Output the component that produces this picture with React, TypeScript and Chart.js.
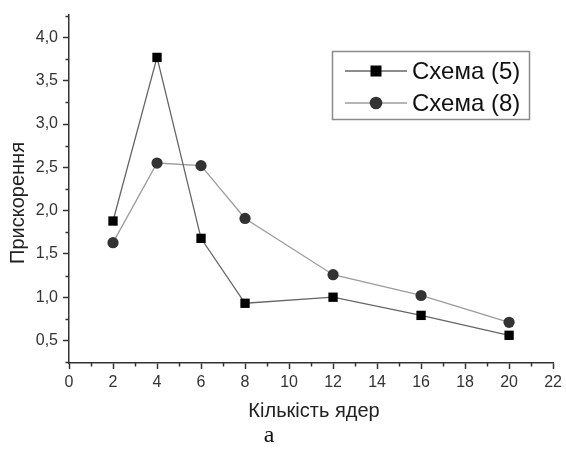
import { useEffect, useRef } from 'react';
import { Chart, registerables } from 'chart.js';

Chart.register(...registerables);

const coreCounts = [2, 4, 6, 8, 12, 16, 20];
const scheme5 = [1.88, 3.77, 1.68, 0.93, 1.0, 0.79, 0.56];
const scheme8 = [1.63, 2.55, 2.52, 1.91, 1.26, 1.02, 0.71];
const seriesLabels = ['Схема (5)', 'Схема (8)'];
const xMajorTicks = [0, 2, 4, 6, 8, 10, 12, 14, 16, 18, 20, 22];
const xMinorTicks = [1, 3, 5, 7, 9, 11, 13, 15, 17, 19, 21];
const yMajorTicks = [0.5, 1.0, 1.5, 2.0, 2.5, 3.0, 3.5, 4.0];
const yMinorTicks = [0.25, 0.75, 1.25, 1.75, 2.25, 2.75, 3.25, 3.75, 4.25];
const xTitle = 'Кількість ядер';
const yTitle = 'Прискорення';
const caption = 'а';

const FONT = '"Liberation Sans", Arial, sans-serif';
const AXIS = '#333333';

const extrasPlugin = {
  id: 'extras',
  afterDraw(chart: any) {
    const ctx = chart.ctx as CanvasRenderingContext2D;
    const xs = chart.scales.x;
    const ys = chart.scales.y;
    const area = chart.chartArea;
    ctx.save();
    // minor ticks
    ctx.strokeStyle = AXIS;
    ctx.lineWidth = 1.5;
    ctx.beginPath();
    xMinorTicks.forEach((v) => {
      const px = Math.round(xs.getPixelForValue(v)) + 0.5;
      ctx.moveTo(px, area.bottom);
      ctx.lineTo(px, area.bottom + 3.5);
    });
    yMinorTicks.forEach((v) => {
      const py = Math.round(ys.getPixelForValue(v)) + 0.5;
      ctx.moveTo(area.left, py);
      ctx.lineTo(area.left - 3.5, py);
    });
    ctx.stroke();

    // legend box
    const bx = 332, by = 51, bw = 197, bh = 68;
    ctx.strokeStyle = '#8a8a8a';
    ctx.lineWidth = 1.5;
    ctx.strokeRect(bx + 0.5, by + 0.5, bw, bh);
    const rows = [71, 103];
    chart.data.datasets.forEach((ds: any, i: number) => {
      const y = rows[i];
      ctx.strokeStyle = ds.borderColor;
      ctx.lineWidth = ds.borderWidth;
      ctx.beginPath();
      ctx.moveTo(345, y);
      ctx.lineTo(407, y);
      ctx.stroke();
      ctx.fillStyle = ds.pointBackgroundColor;
      if (ds.pointStyle === 'rect') {
        ctx.fillRect(376 - 5.5, y - 5.5, 11, 11);
      } else {
        ctx.beginPath();
        ctx.arc(376, y, 6.3, 0, Math.PI * 2);
        ctx.fill();
      }
      ctx.fillStyle = '#111';
      ctx.font = `24px ${FONT}`;
      ctx.textBaseline = 'middle';
      ctx.textAlign = 'left';
      ctx.fillText(ds.label, 412, y + 1);
    });

    // axis titles
    ctx.fillStyle = '#222';
    ctx.font = `20px ${FONT}`;
    ctx.textAlign = 'center';
    ctx.textBaseline = 'middle';
    ctx.fillText(xTitle, 314, 411);
    ctx.save();
    ctx.translate(18, 203);
    ctx.rotate(-Math.PI / 2);
    ctx.fillText(yTitle, 0, 0);
    ctx.restore();

    // caption
    ctx.font = `24px "Liberation Serif", "Times New Roman", serif`;
    ctx.fillStyle = '#111';
    ctx.fillText(caption, 269, 436);
    ctx.restore();
  },
};

export default function App() {
  const ref = useRef<HTMLCanvasElement | null>(null);
  useEffect(() => {
    if (!ref.current) return;
    const chart = new Chart(ref.current, {
      type: 'line',
      data: {
        datasets: [
          {
            label: seriesLabels[0],
            data: coreCounts.map((x, i) => ({ x, y: scheme5[i] })),
            borderColor: '#666666',
            borderWidth: 1.3,
            pointStyle: 'rect',
            pointRadius: 6.6,
            pointBackgroundColor: '#000000',
            pointBorderWidth: 0,
            pointBorderColor: '#000000',
            tension: 0,
          },
          {
            label: seriesLabels[1],
            data: coreCounts.map((x, i) => ({ x, y: scheme8[i] })),
            borderColor: '#9c9c9c',
            borderWidth: 1.3,
            pointStyle: 'circle',
            pointRadius: 5.6,
            pointBackgroundColor: '#333333',
            pointBorderWidth: 0,
            pointBorderColor: '#333333',
            tension: 0,
          },
        ],
      },
      options: {
        animation: false,
        responsive: false,
        events: [],
        layout: { padding: { left: 0, right: 11, top: 15, bottom: 0 } },
        plugins: { legend: { display: false }, tooltip: { enabled: false } },
        scales: {
          x: {
            type: 'linear',
            min: 0,
            max: 22,
            afterBuildTicks: (s: any) => {
              s.ticks = xMajorTicks.map((v) => ({ value: v }));
            },
            afterFit: (s: any) => {
              s.height = 91;
            },
            ticks: {
              color: '#333',
              font: { family: FONT, size: 16 },
              padding: 4,
              maxRotation: 0,
              autoSkip: false,
            },
            grid: {
              drawOnChartArea: false,
              drawTicks: true,
              tickLength: 6,
              tickColor: AXIS,
              tickWidth: 1.5,
            },
            border: { color: AXIS, width: 1.5 },
          },
          y: {
            type: 'linear',
            min: 0.24,
            max: 4.26,
            afterBuildTicks: (s: any) => {
              s.ticks = yMajorTicks.map((v) => ({ value: v }));
            },
            afterFit: (s: any) => {
              s.width = 69;
            },
            ticks: {
              color: '#333',
              font: { family: FONT, size: 16 },
              padding: 5,
              autoSkip: false,
              callback: (v: any) => Number(v).toFixed(1).replace('.', ','),
            },
            grid: {
              drawOnChartArea: false,
              drawTicks: true,
              tickLength: 6,
              tickColor: AXIS,
              tickWidth: 1.5,
            },
            border: { color: AXIS, width: 1.5 },
          },
        },
      },
      plugins: [extrasPlugin],
    });
    return () => chart.destroy();
  }, []);
  return (
    <div style={{ position: 'fixed', left: 0, top: 0, width: 566, height: 454, background: '#fff' }}>
      <canvas ref={ref} width={566} height={454} style={{ display: 'block' }} />
    </div>
  );
}
